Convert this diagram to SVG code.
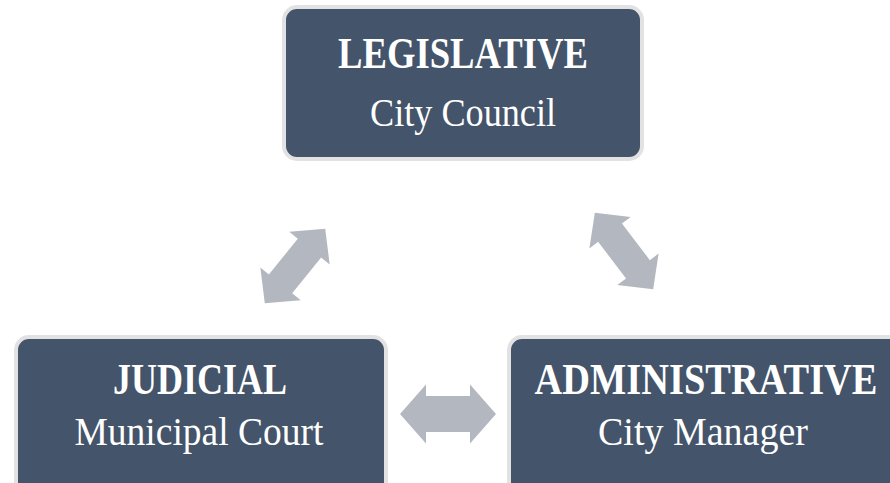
<svg xmlns="http://www.w3.org/2000/svg" width="890" height="483" viewBox="0 0 890 483">
<defs>
<style>
.box{fill:#44546a;stroke:#e2e2e2;stroke-width:4}
.t1{font-family:"Liberation Serif","DejaVu Serif",serif;font-weight:bold;font-size:44px;fill:#ffffff;text-anchor:middle}
.t2{font-family:"Liberation Serif","DejaVu Serif",serif;font-size:41px;fill:#ffffff;text-anchor:middle}
.arr{fill:#b3b7bf}
</style>
<polygon id="dbl" points="-48,0 -22,-29.5 -22,-18 22,-18 22,-29.5 48,0 22,29.5 22,18 -22,18 -22,29.5"/>
<polygon id="dbl2" points="-48,0 -23,-26 -23,-15 23,-15 23,-26 48,0 23,26 23,15 -23,15 -23,26"/>
</defs>
<rect width="890" height="483" fill="#ffffff"/>
<g id="legislative">
<rect class="box" x="284" y="7" width="358" height="152" rx="13"/>
<text class="t1" x="463" y="68" textLength="250" lengthAdjust="spacingAndGlyphs">LEGISLATIVE</text>
<text class="t2" x="463" y="126" textLength="186" lengthAdjust="spacingAndGlyphs">City Council</text>
</g>
<g id="judicial">
<rect class="box" x="16" y="337" width="370" height="160" rx="13"/>
<text class="t1" x="200" y="394" textLength="174" lengthAdjust="spacingAndGlyphs">JUDICIAL</text>
<text class="t2" x="199" y="445" textLength="249" lengthAdjust="spacingAndGlyphs">Municipal Court</text>
</g>
<g id="administrative">
<rect class="box" x="509" y="337" width="394" height="160" rx="13"/>
<text class="t1" x="706" y="394" textLength="343" lengthAdjust="spacingAndGlyphs">ADMINISTRATIVE</text>
<text class="t2" x="703" y="445" textLength="210" lengthAdjust="spacingAndGlyphs">City Manager</text>
</g>
<g id="connectors" class="arr">
<use href="#dbl2" transform="translate(295,266) rotate(-51)"/>
<use href="#dbl2" transform="translate(624,251) rotate(52.6)"/>
<use href="#dbl" transform="translate(448,414)"/>
</g>
</svg>
